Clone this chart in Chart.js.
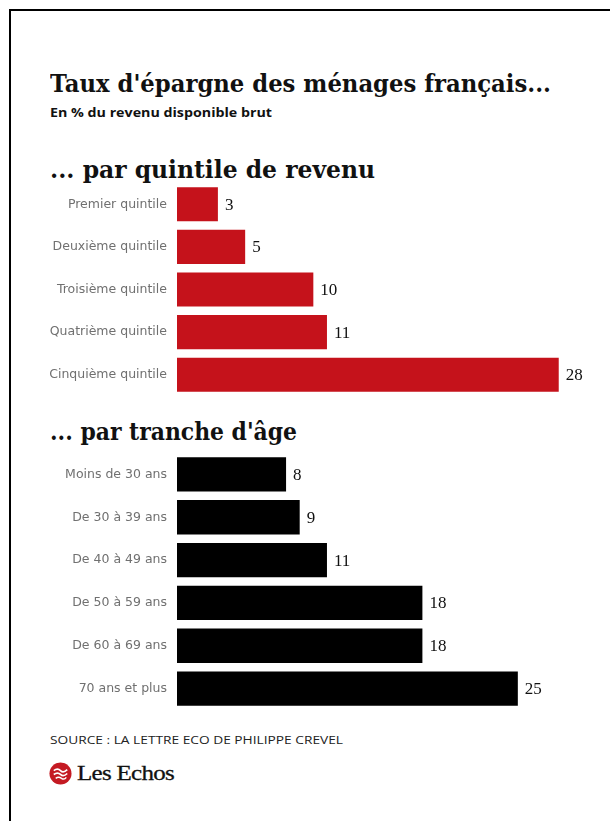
<!DOCTYPE html>
<html>
<head>
<meta charset="utf-8">
<title>Taux d'épargne des ménages français</title>
<style>
  html, body { margin: 0; padding: 0; background: #fff; }
  body { width: 610px; height: 821px; position: relative; overflow: hidden; font-family: 'Open Sans', sans-serif; color: #111; }
  .rule-top { position: absolute; left: 9px; top: 9px; width: 601px; height: 2px; background: #000; }
  .rule-left { position: absolute; left: 9px; top: 9px; width: 2px; height: 812px; background: #000; }
  .txt { position: absolute; white-space: nowrap; transform-origin: 0 50%; line-height: 1; }
  .title { left: 50px; top: 71px; font-family: 'DejaVu Serif', serif; font-weight: bold; font-size: 25px; }
  .sub { left: 50px; top: 107px; font-weight: 700; font-size: 12px; }
  .section { left: 50px; font-family: 'DejaVu Serif', serif; font-weight: bold; font-size: 24px; }
  .source { left: 50px; top: 735px; font-size: 10px; font-weight: 500; color: #222; }
  .brand { left: 77px; top: 763px; font-family: 'Liberation Serif', serif; font-size: 21px; letter-spacing: -0.6px; -webkit-text-stroke: 0.3px #111; }
  .logo { position: absolute; left: 49px; top: 762px; width: 23px; height: 23px; }
  .box { position: absolute; left: 0; width: 610px; }
</style>
</head>
<body>
<div class="rule-top"></div>
<div class="rule-left"></div>

<div class="txt title" data-w="501">Taux d'épargne des ménages français...</div>
<div class="txt sub" data-w="222">En % du revenu disponible brut</div>
<div class="txt section" style="top:158px" data-w="325">... par quintile de revenu</div>
<div class="txt section" style="top:420px" data-w="247">... par tranche d'âge</div>

<div class="box" style="top:183px;height:213px"><canvas id="quintiles"></canvas></div>
<div class="box" style="top:453px;height:257px"><canvas id="ages"></canvas></div>

<div class="txt source" data-w="293">SOURCE : LA LETTRE ECO DE PHILIPPE CREVEL</div>
<svg class="logo" viewBox="0 0 24 24">
  <circle cx="12" cy="12" r="11.5" fill="#c41a23"/>
  <path d="M5 9 Q9 6 12 9 T19 8" stroke="#fff" stroke-width="1.8" fill="none"/>
  <path d="M5 13 Q9 10 12 13 T19 12" stroke="#fff" stroke-width="1.8" fill="none"/>
  <path d="M7 17 Q10 15 13 17 T18 16" stroke="#fff" stroke-width="1.6" fill="none"/>
</svg>
<div class="txt brand" data-w="97">Les Echos</div>

<script src="https://cdn.jsdelivr.net/npm/chart.js"></script>
<script>
// savings rate, % of gross disposable income
const quintileLabels = ['Premier quintile', 'Deuxième quintile', 'Troisième quintile', 'Quatrième quintile', 'Cinquième quintile'];
const quintileValues = [3, 5, 10, 11, 28];
const ageLabels = ['Moins de 30 ans', 'De 30 à 39 ans', 'De 40 à 49 ans', 'De 50 à 59 ans', 'De 60 à 69 ans', '70 ans et plus'];
const ageValues = [8, 9, 11, 18, 18, 25];
const axisMax = 30;

// squeeze headings to their set widths
document.querySelectorAll('[data-w]').forEach(el => {
  const w = el.getBoundingClientRect().width;
  el.style.transform = 'scaleX(' + (el.dataset.w / w) + ')';
});

// number printed just past the end of each bar
const valueLabels = {
  id: 'valueLabels',
  afterDatasetsDraw(chart) {
    const ctx = chart.ctx;
    const data = chart.data.datasets[0].data;
    ctx.save();
    ctx.font = '17px "Liberation Serif"';
    ctx.fillStyle = '#111';
    ctx.textBaseline = 'middle';
    chart.getDatasetMeta(0).data.forEach((bar, i) => {
      ctx.fillText(String(data[i]), bar.x + 7, bar.y + 1);
    });
    ctx.restore();
  }
};

function makeChart(id, labels, values, color) {
  return new Chart(document.getElementById(id), {
    type: 'bar',
    data: {
      labels: labels,
      datasets: [{ data: values, backgroundColor: color, borderWidth: 0, barPercentage: 0.8, categoryPercentage: 1 }]
    },
    options: {
      indexAxis: 'y',
      responsive: true,
      maintainAspectRatio: false,
      animation: false,
      layout: { padding: { left: 0, right: 24, top: 0, bottom: 0 } },
      plugins: { legend: { display: false }, tooltip: { enabled: false } },
      scales: {
        x: { display: false, min: 0, max: axisMax },
        y: {
          grid: { display: false, drawTicks: false },
          border: { display: false },
          ticks: { padding: 10, color: '#707070', font: { family: "'DejaVu Sans'", size: 12.5, weight: 'normal' } },
          afterFit(scale) {
            scale.width = 177;
            scale.paddingTop = 0;
            scale.paddingBottom = 0;
          }
        }
      }
    },
    plugins: [valueLabels]
  });
}

makeChart('quintiles', quintileLabels, quintileValues, '#c5121b');
makeChart('ages', ageLabels, ageValues, '#000');
</script>
</body>
</html>
